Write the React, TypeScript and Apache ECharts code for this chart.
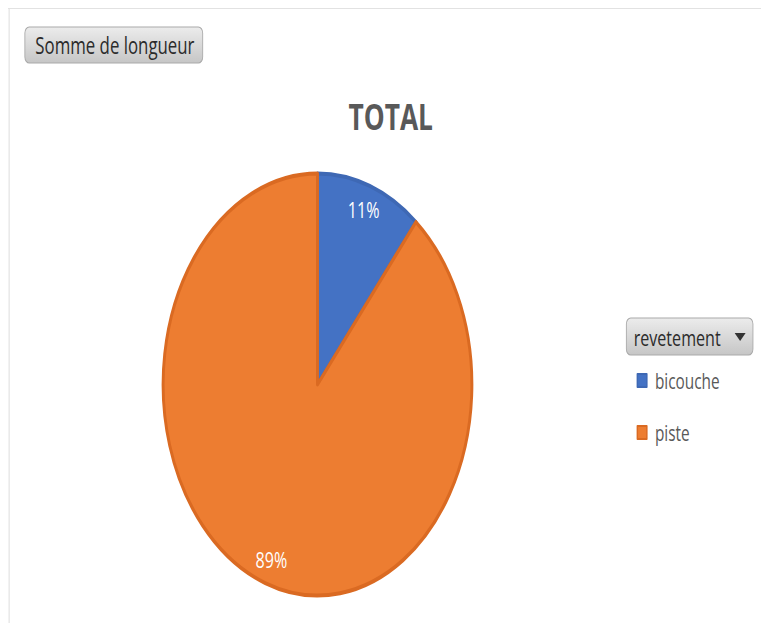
import React, { useEffect, useRef } from "react";
import * as echarts from "echarts";

const categories = ["bicouche", "piste"];
const values = [11, 89];
const colors = ["#4472C4", "#ED7D31"];
const borderColors = ["#3E68B4", "#DA6A22"];
const chartTitle = "TOTAL";
const fieldButton = "Somme de longueur";
const legendButton = "revetement";

const SCREEN_W = 761;
const SCREEN_H = 623;
const CHART_W = 1040;
const SX = SCREEN_W / CHART_W;
const FONT = "'Open Sans', sans-serif";

export default function App() {
  const ref = useRef<HTMLDivElement>(null);

  useEffect(() => {
    if (!ref.current) return;
    const chart = echarts.init(ref.current, null, { renderer: "svg" });
    const data = categories.map((name, i) => ({
      name,
      value: values[i],
      itemStyle: { color: colors[i], borderColor: borderColors[i] },
    }));
    const cx = 317.5 / SX;
    const cy = 384.5;
    const R = 211;
    chart.setOption({
      animation: false,
      backgroundColor: "#ffffff",
      title: {
        text: chartTitle,
        left: 529,
        top: 93,
        textAlign: "center",
        textStyle: { fontFamily: FONT, fontSize: 36, fontWeight: "bold", color: "#595959" },
      },
      legend: {
        orient: "vertical",
        left: 865,
        top: 365,
        itemWidth: 13,
        itemHeight: 13,
        itemGap: 31,
        icon: "rect",
        data: categories,
        textStyle: {
          fontFamily: FONT,
          fontSize: 21,
          lineHeight: 20,
          color: "#595959",
          padding: [0, 0, 0, 6],
        },
        selectedMode: false,
      },
      graphic: [
        { type: "line", shape: { x1: 11, y1: 8.5, x2: CHART_W, y2: 8.5 }, style: { stroke: "#e2e2e2", lineWidth: 1.2 } },
        { type: "line", shape: { x1: 12.5, y1: 8, x2: 12.5, y2: SCREEN_H }, style: { stroke: "#e2e2e2", lineWidth: 1.6 } },
        {
          type: "rect",
          shape: { x: 34, y: 27, width: 243, height: 36, r: 6 },
          style: {
            fill: new echarts.graphic.LinearGradient(0, 0, 0, 1, [
              { offset: 0, color: "#ececec" },
              { offset: 1, color: "#c6c6c6" },
            ]),
            stroke: "#a9a9a9",
            lineWidth: 1.2,
          },
        },
        {
          type: "text",
          x: 157,
          y: 45,
          style: {
            text: fieldButton,
            fontFamily: FONT,
            fontSize: 23,
            fill: "#2b2b2b",
            align: "center",
            verticalAlign: "middle",
          },
        },
        {
          type: "rect",
          shape: { x: 856, y: 318, width: 173, height: 37, r: 6 },
          style: {
            fill: new echarts.graphic.LinearGradient(0, 0, 0, 1, [
              { offset: 0, color: "#ececec" },
              { offset: 1, color: "#c6c6c6" },
            ]),
            stroke: "#a9a9a9",
            lineWidth: 1.2,
          },
        },
        {
          type: "text",
          x: 866,
          y: 337,
          style: {
            text: legendButton,
            fontFamily: FONT,
            fontSize: 22,
            fill: "#2b2b2b",
            align: "left",
            verticalAlign: "middle",
          },
        },
        {
          type: "polygon",
          shape: { points: [[1004, 333], [1019, 333], [1011.5, 341]] },
          style: { fill: "#333333" },
        },
      ],
      series: [
        {
          type: "pie",
          center: [cx, cy],
          radius: [0, R],
          startAngle: 90,
          clockwise: true,
          silent: true,
          label: { show: false },
          labelLine: { show: false },
          itemStyle: { borderWidth: 4 },
          data,
        },
        {
          type: "pie",
          center: [cx, cy],
          radius: [155, R],
          startAngle: 90,
          clockwise: true,
          silent: true,
          percentPrecision: 0,
          legendHoverLink: false,
          itemStyle: { color: "transparent", borderWidth: 0 },
          label: {
            show: true,
            position: "inside",
            formatter: "{d}%",
            fontFamily: FONT,
            fontSize: 22,
            color: "#ffffff",
          },
          labelLine: { show: false },
          data: categories.map((name, i) => ({ name: name + "_lbl", value: values[i] })),
        },
      ],
    });
    return () => chart.dispose();
  }, []);

  return (
    <div
      style={{
        position: "fixed",
        left: 0,
        top: 0,
        width: SCREEN_W,
        height: SCREEN_H,
        overflow: "hidden",
        background: "#ffffff",
      }}
    >
      <div
        ref={ref}
        style={{
          width: CHART_W,
          height: SCREEN_H,
          transform: `scaleX(${SX})`,
          transformOrigin: "0 0",
        }}
      />
    </div>
  );
}
